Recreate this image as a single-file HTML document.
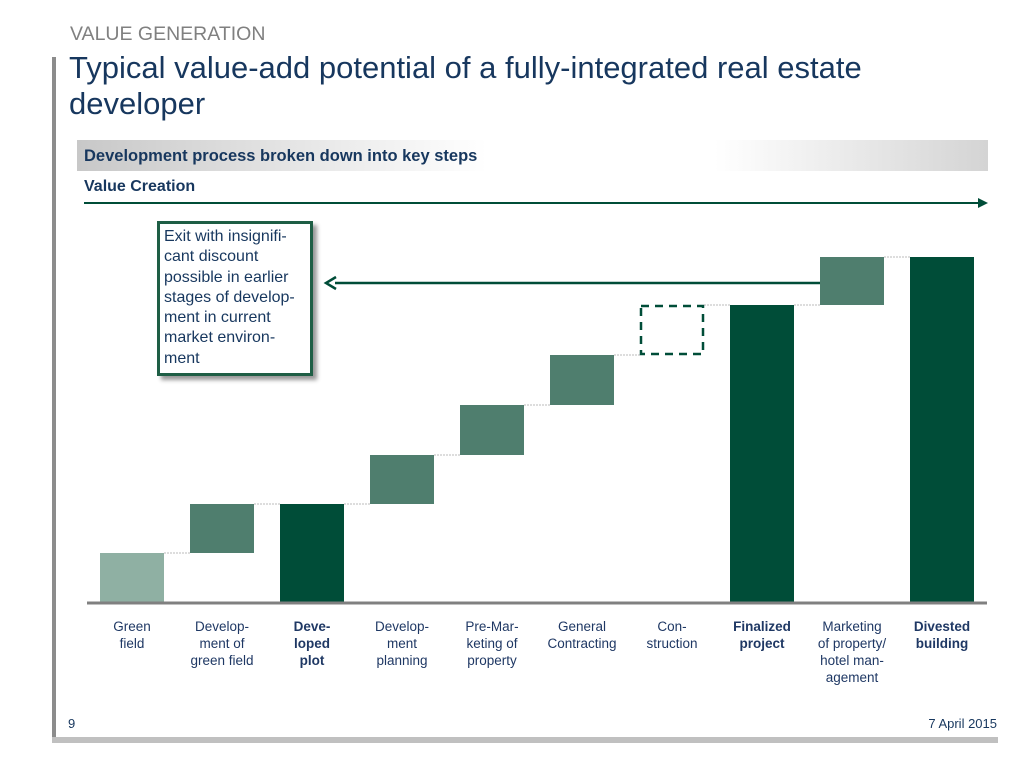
<!DOCTYPE html><html><head><style>
body{margin:0;width:1024px;height:768px;background:#fff;font-family:"Liberation Sans",sans-serif;position:relative;overflow:hidden}
.a{position:absolute}
.lbl{position:absolute;top:618px;width:90px;text-align:center;font-size:13.5px;line-height:17px;color:#1f3864}
</style></head><body>
<div class="a" style="left:70px;top:23px;font-size:19.5px;color:#808080">VALUE GENERATION</div>
<div class="a" style="left:52px;top:57px;width:4px;height:683px;background:#8c8c8c"></div>
<div class="a" style="left:69px;top:50px;font-size:31px;line-height:36px;color:#17375e">Typical value-add potential of a fully-integrated real estate<br>developer</div>
<div class="a" style="left:77px;top:140px;width:911px;height:31px;background:linear-gradient(90deg,#c8c8c8,#fff 45%,#fff 70%,#d4d4d4)"></div>
<div class="a" style="left:84px;top:147px;font-size:16.5px;font-weight:bold;color:#17375e">Development process broken down into key steps</div>
<div class="a" style="left:84px;top:178px;font-size:16px;font-weight:bold;color:#17375e">Value Creation</div>
<svg class="a" style="left:0;top:0" width="1024" height="768">
<line x1="84" y1="203" x2="980" y2="203" stroke="#004d38" stroke-width="2"/>
<polygon points="988,203 978,198 978,208" fill="#004d38"/>
<g stroke="#bbb" stroke-width="1" stroke-dasharray="2,1">
<line x1="164" y1="553" x2="190" y2="553"/><line x1="254" y1="504" x2="280" y2="504"/>
<line x1="344" y1="504" x2="370" y2="504"/><line x1="434" y1="455" x2="460" y2="455"/>
<line x1="524" y1="405" x2="550" y2="405"/><line x1="614" y1="355" x2="640" y2="355"/>
<line x1="704" y1="305" x2="730" y2="305"/><line x1="794" y1="305" x2="820" y2="305"/>
<line x1="884" y1="257" x2="910" y2="257"/></g>
<rect x="100" y="553" width="64" height="50" fill="#8fb0a3"/>
<rect x="190" y="504" width="64" height="49" fill="#4f7e6e"/>
<rect x="280" y="504" width="64" height="99" fill="#004d38"/>
<rect x="370" y="455" width="64" height="49" fill="#4f7e6e"/>
<rect x="460" y="405" width="64" height="50" fill="#4f7e6e"/>
<rect x="550" y="355" width="64" height="50" fill="#4f7e6e"/>
<rect x="641" y="306" width="62" height="48" fill="none" stroke="#004d38" stroke-width="2.5" stroke-dasharray="8,6"/>
<rect x="730" y="305" width="64" height="298" fill="#004d38"/>
<rect x="820" y="257" width="64" height="48" fill="#4f7e6e"/>
<rect x="910" y="257" width="64" height="346" fill="#004d38"/>
<line x1="87" y1="603" x2="987" y2="603" stroke="#808080" stroke-width="3"/>
<line x1="335" y1="283" x2="820" y2="283" stroke="#004d38" stroke-width="2.5"/>
<polyline points="336,277 326,283 336,289" fill="none" stroke="#004d38" stroke-width="2.5"/>
</svg>
<div class="a" style="left:157px;top:221px;width:150px;height:149px;border:3px solid #1e5e45;box-shadow:4px 4px 4px #999;background:#fff"></div>
<div class="a" style="left:164px;top:227px;font-size:16px;line-height:20.3px;color:#17375e">Exit with insignifi-<br>cant discount<br>possible in earlier<br>stages of develop-<br>ment in current<br>market environ-<br>ment</div>
<div class="lbl" style="left:87px">Green<br>field</div>
<div class="lbl" style="left:177px">Develop-<br>ment of<br>green field</div>
<div class="lbl" style="left:267px;font-weight:bold">Deve-<br>loped<br>plot</div>
<div class="lbl" style="left:357px">Develop-<br>ment<br>planning</div>
<div class="lbl" style="left:447px">Pre-Mar-<br>keting of<br>property</div>
<div class="lbl" style="left:532px;width:100px">General<br>Contracting</div>
<div class="lbl" style="left:627px">Con-<br>struction</div>
<div class="lbl" style="left:717px;font-weight:bold">Finalized<br>project</div>
<div class="lbl" style="left:802px;width:100px">Marketing<br>of property/<br>hotel man-<br>agement</div>
<div class="lbl" style="left:897px;font-weight:bold">Divested<br>building</div>
<div class="a" style="left:68px;top:716px;font-size:13px;color:#17375e">9</div>
<div class="a" style="left:900px;top:716px;width:97px;text-align:right;font-size:13px;color:#17375e">7 April 2015</div>
<div class="a" style="left:52px;top:737px;width:946px;height:6px;background:#c0c0c0"></div>
</body></html>
